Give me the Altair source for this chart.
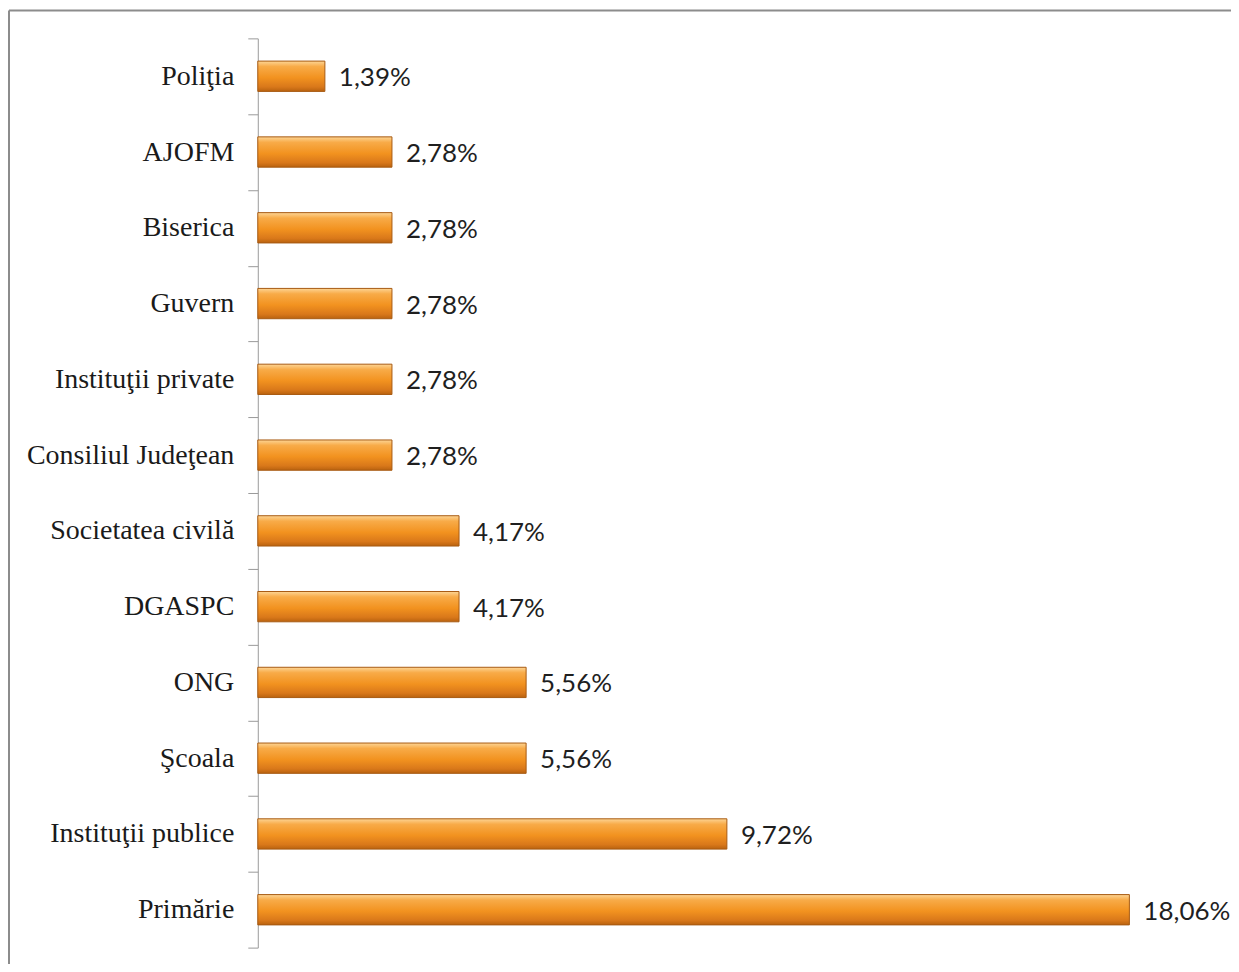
import altair as alt
import pandas as pd

categories = ["Poliţia", "AJOFM", "Biserica", "Guvern", "Instituţii private",
              "Consiliul Judeţean", "Societatea civilă", "DGASPC", "ONG",
              "Şcoala", "Instituţii publice", "Primărie"]
values = [1.39, 2.78, 2.78, 2.78, 2.78, 2.78, 4.17, 4.17, 5.56, 5.56, 9.72, 18.06]
labels = ["1,39%", "2,78%", "2,78%", "2,78%", "2,78%", "2,78%", "4,17%",
          "4,17%", "5,56%", "5,56%", "9,72%", "18,06%"]

df = pd.DataFrame({"cat": categories, "val": values, "lab": labels})

y_enc = alt.Y(
    "cat:N",
    sort=categories,
    title=None,
    scale=alt.Scale(paddingInner=0, paddingOuter=0),
    axis=alt.Axis(
        tickBand="extent",
        tickSize=10,
        tickColor="#9a9a9a",
        domainColor="#9a9a9a",
        labelFont="Liberation Serif",
        labelFontSize=28,
        labelColor="#1a1a1a",
        labelPadding=14,
        labelLimit=400,
    ),
)
x_enc = alt.X("val:Q", title=None, axis=None,
              scale=alt.Scale(domain=[0, 20], nice=False))

grad = alt.Gradient(
    gradient="linear",
    stops=[
        alt.GradientStop(color="#fdd595", offset=0),
        alt.GradientStop(color="#f8ab48", offset=0.18),
        alt.GradientStop(color="#f2921f", offset=0.55),
        alt.GradientStop(color="#d9781a", offset=0.85),
        alt.GradientStop(color="#b9620f", offset=1),
    ],
    x1=0, x2=0, y1=0, y2=1,
)

bars = alt.Chart(df).mark_bar(
    color=grad, height={"band": 0.4}, stroke="#a85a12", strokeWidth=1
).encode(x=x_enc, y=y_enc)

text = alt.Chart(df).mark_text(
    align="left", baseline="middle", dx=14, dy=2, font="Lato", fontSize=26,
    color="#1f1f1f"
).encode(x=x_enc, y=y_enc, text="lab:N")

one = pd.DataFrame({"a": [0]})
frame_left = alt.Chart(one).mark_rule(color="#8c8c8c", strokeWidth=2).encode(
    x=alt.value(-249), y=alt.value(-28), y2=alt.value(990))
frame_top = alt.Chart(one).mark_rule(color="#8c8c8c", strokeWidth=2).encode(
    x=alt.value(-249), x2=alt.value(1000), y=alt.value(-28))

chart = alt.layer(bars, text, frame_left, frame_top).properties(
    width=966, height=910,
    padding={"left": 250, "top": 30, "right": 8, "bottom": 16},
    autosize=alt.AutoSizeParams(type="none"),
).configure_view(stroke=None)

chart.save("out.html", embed_options={"renderer": "svg", "actions": False})
